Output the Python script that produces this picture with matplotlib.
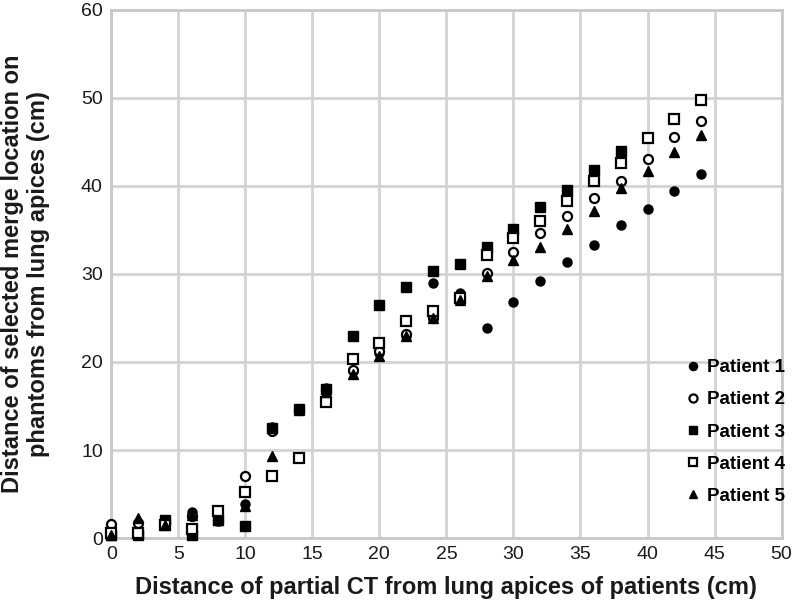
import matplotlib
matplotlib.use("Agg")
import matplotlib.pyplot as plt

plt.rcParams["font.family"] = ["Liberation Sans", "DejaVu Sans"]

x_all = [0, 2, 4, 6, 8, 10, 12, 14, 16, 18, 20, 22, 24, 26, 28, 30, 32, 34, 36, 38, 40, 42, 44]
x_p3 = x_all[:20]

patient1 = [0.5, 1.7, 1.5, 3.0, 1.9, 3.9, 12.6, 14.7, 17.0, 19.0, 21.0, 23.0, 29.0, 27.8, 23.9,
            26.8, 29.2, 31.3, 33.3, 35.5, 37.4, 39.4, 41.3]
patient2 = [1.6, 1.7, 1.8, 2.5, 2.1, 7.0, 12.2, 14.6, 16.8, 19.1, 21.2, 23.2, 25.0, 27.2, 30.1,
            32.5, 34.6, 36.6, 38.6, 40.6, 43.0, 45.5, 47.4]
patient3 = [0.4, 0.4, 2.1, 0.3, 2.1, 1.4, 12.5, 14.7, 16.9, 23.0, 26.5, 28.5, 30.3, 31.1, 33.1,
            35.1, 37.6, 39.5, 41.8, 44.0]
patient4 = [0.6, 0.6, 1.5, 1.0, 3.1, 5.2, 7.1, 9.1, 15.4, 20.3, 22.1, 24.6, 25.8, 27.3, 32.1,
            34.1, 36.0, 38.3, 40.5, 42.6, 45.4, 47.6, 49.8]
patient5 = [0.4, 2.3, 1.5, 2.6, 2.0, 3.6, 9.3, 14.6, 16.6, 18.6, 20.7, 23.0, 25.0, 27.0, 29.8,
            31.6, 33.0, 35.1, 37.1, 39.7, 41.7, 43.8, 45.8]

fig = plt.figure(figsize=(8, 6.08), dpi=100)
ax = fig.add_axes([0.139, 0.115, 0.838, 0.869])

ms = 6.5
kw = dict(linestyle="none", clip_on=False, zorder=3)
ax.plot(x_all, patient1, marker="o", color="black", markersize=ms, label="Patient 1", **kw)
ax.plot(x_all, patient2, marker="o", markerfacecolor="white", markeredgecolor="black",
        markeredgewidth=1.6, markersize=ms, label="Patient 2", **kw)
ax.plot(x_p3, patient3, marker="s", color="black", markersize=ms, label="Patient 3", **kw)
ax.plot(x_all, patient4, marker="s", markerfacecolor="white", markeredgecolor="black",
        markeredgewidth=1.6, markersize=ms, label="Patient 4", **kw)
ax.plot(x_all, patient5, marker="^", color="black", markersize=ms, label="Patient 5", **kw)

ax.set_xlim(0, 50)
ax.set_ylim(0, 60)
ax.set_xticks(range(0, 51, 5))
ax.set_yticks(range(0, 61, 10))
ax.grid(True, color="#d3d3d3", linewidth=2)
ax.set_axisbelow(True)
for s in ax.spines.values():
    s.set_color("#c8c8c8")
    s.set_linewidth(2)
ax.tick_params(length=0, labelsize=14, pad=6, colors="#1a1a1a")

ax.set_xlabel("Distance of partial CT from lung apices of patients (cm)",
              fontsize=17, fontweight="bold", labelpad=9, color="#1a1a1a")
ax.set_ylabel("Distance of selected merge location on\nphantoms from lung apices (cm)",
              fontsize=17, fontweight="bold", labelpad=22, color="#1a1a1a")

leg = ax.legend(loc="lower right", bbox_to_anchor=(1.03, 0.031), frameon=False,
                handlelength=1.0, handletextpad=0.25, labelspacing=0.8, markerscale=0.9,
                prop={"weight": "bold", "size": 13.5})

fig.savefig("out.png", dpi=100)
